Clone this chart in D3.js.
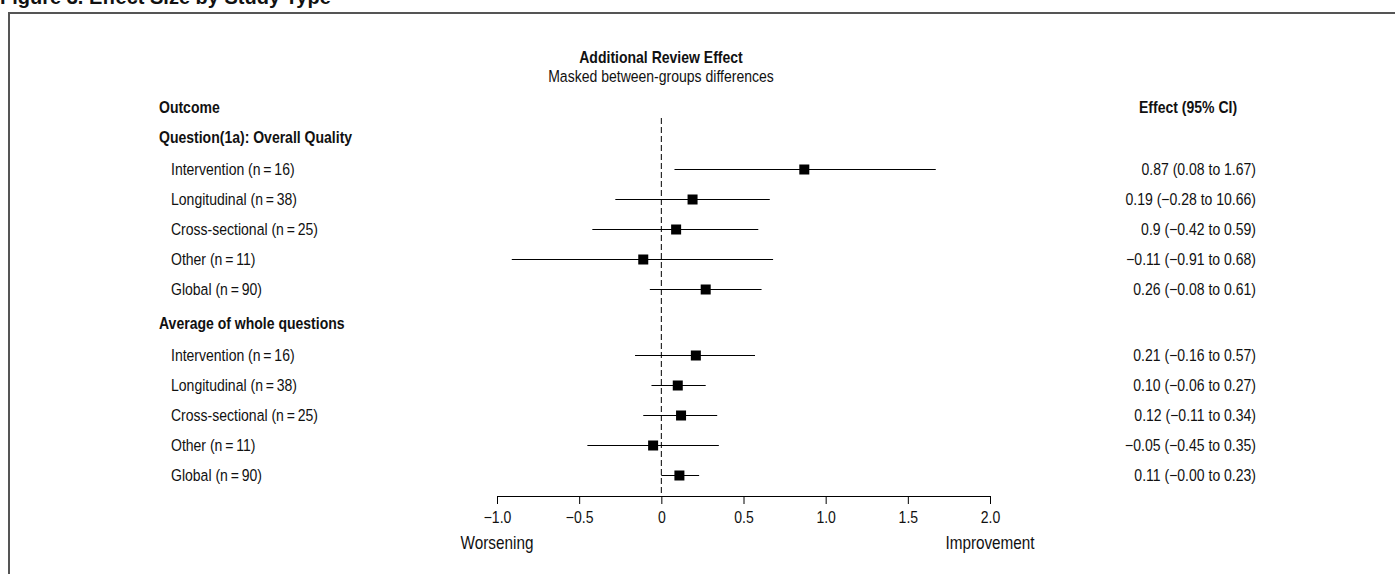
<!DOCTYPE html>
<html>
<head>
<meta charset="utf-8">
<script src="https://cdn.jsdelivr.net/npm/d3@7"></script>
<style>
  body { margin: 0; background: #fff; }
  svg text { font-family: "Liberation Sans", Arial, sans-serif; fill: #111; }
</style>
</head>
<body>
<div id="chart"></div>
<script>
// data
const groups = ["Question(1a): Overall Quality", "Average of whole questions"];
const studyTypes = ["Intervention (n\u2009=\u200916)", "Longitudinal (n\u2009=\u200938)", "Cross-sectional (n\u2009=\u200925)", "Other (n\u2009=\u200911)", "Global (n\u2009=\u200990)"];
// estimates as drawn
const estimates = [[0.87, 0.19, 0.09, -0.11, 0.27], [0.21, 0.10, 0.12, -0.05, 0.11]];
const lowers = [[0.08, -0.28, -0.42, -0.91, -0.07], [-0.16, -0.06, -0.11, -0.45, -0.00]];
const uppers = [[1.67, 0.66, 0.59, 0.68, 0.61], [0.57, 0.27, 0.34, 0.35, 0.23]];
// printed column
const effectLabels = [
  ["0.87 (0.08 to 1.67)", "0.19 (\u22120.28 to 10.66)", "0.9 (\u22120.42 to 0.59)", "\u22120.11 (\u22120.91 to 0.68)", "0.26 (\u22120.08 to 0.61)"],
  ["0.21 (\u22120.16 to 0.57)", "0.10 (\u22120.06 to 0.27)", "0.12 (\u22120.11 to 0.34)", "\u22120.05 (\u22120.45 to 0.35)", "0.11 (\u22120.00 to 0.23)"]
];
const xTicks = [-1.0, -0.5, 0, 0.5, 1.0, 1.5, 2.0];

const w = 1395, h = 574;
const narrow = 0.85;   // squeeze Liberation Sans into a condensed look
const fs = 16.5;

const svg = d3.select("#chart").append("svg")
  .attr("width", w).attr("height", h);

// condensed text helper
function label(x, y, txt, opt) {
  opt = opt || {};
  const g = svg.append("g").attr("transform", "translate(" + x + "," + y + ")");
  g.append("text")
    .attr("transform", "scale(" + (opt.sx || narrow) + ",1)")
    .attr("dy", "0.35em")
    .style("text-anchor", opt.anchor || "start")
    .style("font-weight", opt.bold ? "bold" : "normal")
    .style("font-size", (opt.size || fs) + "px")
    .text(txt);
  return g;
}

// figure caption, cut off at top
svg.append("text")
  .attr("x", 0).attr("y", 4)
  .style("font-weight", "bold")
  .style("font-size", "20px")
  .text("Figure 3. Effect Size by Study Type");

// frame
svg.append("rect")
  .attr("x", 9).attr("y", 13)
  .attr("width", w + 20).attr("height", h + 20)
  .attr("fill", "none")
  .attr("stroke", "#555")
  .attr("stroke-width", 2);

// scales
const xScale = d3.scaleLinear().domain([-1, 2]).range([497, 990]);
const yScale = d3.scaleLinear().domain([0, 1]).range([139.5, 169.5]);
const axisY = 496;

// build row slots
const rows = [];
groups.forEach((g, gi) => {
  const base = gi * 6.2;
  rows.push({ type: "header", label: g, slot: base });
  studyTypes.forEach((s, si) => {
    rows.push({ type: "row", label: s, slot: base + 1 + si,
      est: estimates[gi][si], lo: lowers[gi][si], hi: uppers[gi][si], eff: effectLabels[gi][si] });
  });
});
const dataRows = rows.filter(r => r.type === "row");

// titles
label(661, 57, "Additional Review Effect", { anchor: "middle", bold: true });
label(661, 76, "Masked between-groups differences", { anchor: "middle" });
label(159, 107, "Outcome", { bold: true });
label(1139, 107, "Effect (95% CI)", { bold: true });

// left labels
rows.forEach(r => {
  if (r.type === "header") label(159, yScale(r.slot) - 2, r.label, { bold: true });
  else label(171, yScale(r.slot), r.label);
});

// right column
dataRows.forEach(r => label(1256, yScale(r.slot), r.eff, { anchor: "end" }));

// reference line at 0
svg.append("line")
  .attr("x1", xScale(0)).attr("x2", xScale(0))
  .attr("y1", 118).attr("y2", axisY)
  .attr("stroke", "#000").attr("stroke-width", 1)
  .attr("stroke-dasharray", "6,3");

// CI lines
svg.selectAll(".ci")
  .data(dataRows)
  .enter()
  .append("line")
  .attr("class", "ci")
  .attr("x1", d => xScale(d.lo)).attr("x2", d => xScale(d.hi))
  .attr("y1", d => yScale(d.slot)).attr("y2", d => yScale(d.slot))
  .attr("stroke", "#000").attr("stroke-width", 1);

// squares
const sq = 10;
svg.selectAll(".pt")
  .data(dataRows)
  .enter()
  .append("rect")
  .attr("class", "pt")
  .attr("x", d => xScale(d.est) - sq / 2)
  .attr("y", d => yScale(d.slot) - sq / 2)
  .attr("width", sq).attr("height", sq)
  .attr("fill", "#000");

// axis
const xAxis = d3.axisBottom(xScale)
  .tickValues(xTicks)
  .tickSizeOuter(0)
  .tickSizeInner(8)
  .tickPadding(7)
  .tickFormat(d => d === 0 ? "0" : d3.format(".1f")(d));

const ax = svg.append("g")
  .attr("transform", "translate(0," + axisY + ")")
  .call(xAxis);
ax.select(".domain").attr("stroke", "#000");
ax.selectAll(".tick line").attr("stroke", "#000");
ax.selectAll(".tick text")
  .attr("transform", "scale(" + narrow + ",1)")
  .style("font-family", "'Liberation Sans', Arial, sans-serif")
  .style("font-size", fs + "px")
  .attr("fill", "#111");

label(xScale(-1), 543, "Worsening", { anchor: "middle", size: 18 });
label(xScale(2), 543, "Improvement", { anchor: "middle", size: 18 });
</script>
</body>
</html>
